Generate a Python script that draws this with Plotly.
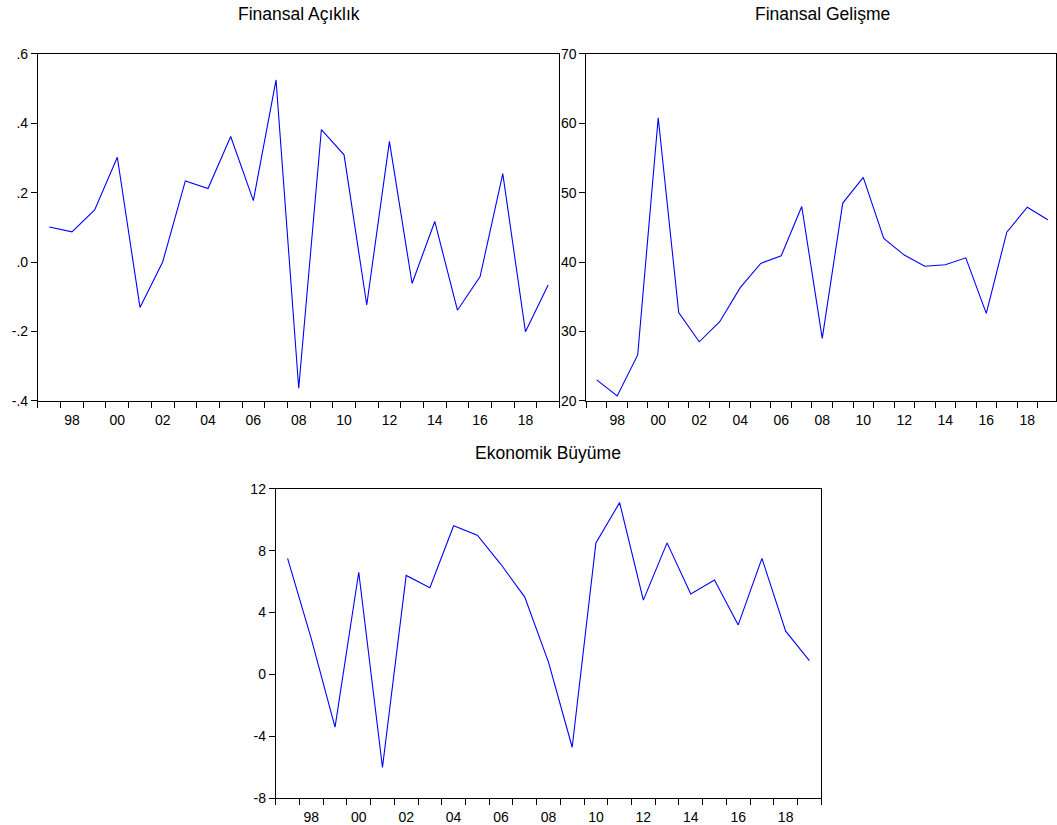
import plotly.graph_objects as go

years = list(range(1997, 2020))

finansal_aciklik = [0.101, 0.087, 0.150, 0.302, -0.131, 0.000, 0.234, 0.212, 0.362, 0.177,
                    0.525, -0.364, 0.382, 0.309, -0.124, 0.348, -0.062, 0.117, -0.139, -0.042,
                    0.255, -0.201, -0.066]

finansal_gelisme = [23.0, 20.7, 26.6, 60.8, 32.7, 28.5, 31.4, 36.3, 39.8, 40.9,
                    48.0, 29.0, 48.5, 52.2, 43.4, 41.0, 39.4, 39.6, 40.6, 32.6,
                    44.3, 47.9, 46.1]

ekonomik_buyume = [7.5, 2.3, -3.4, 6.6, -6.0, 6.4, 5.6, 9.6, 9.0, 7.1,
                   5.0, 0.8, -4.7, 8.5, 11.1, 4.8, 8.5, 5.2, 6.1, 3.2,
                   7.5, 2.8, 0.9]

titles = ["Finansal Açıklık", "Finansal Gelişme", "Ekonomik Büyüme"]

x_label_years = list(range(1998, 2020, 2))
x_label_text = [f"{y % 100:02d}" for y in x_label_years]
x_minor_ticks = [y + 0.5 for y in range(1996, 2020)]

y1_ticks = [-0.4, -0.2, 0.0, 0.2, 0.4, 0.6]
y1_text = ["-.4", "-.2", ".0", ".2", ".4", ".6"]
y2_ticks = [20, 30, 40, 50, 60, 70]
y3_ticks = [-8, -4, 0, 4, 8, 12]

W, H = 1057, 825


def xd(a, b):
    return [a / W, min(b / W, 1.0)]


def yd(top, bottom):
    return [max(1 - bottom / H, 0.0), 1 - top / H]


font_family = "Liberation Sans, Arial, sans-serif"
tick_font = dict(family=font_family, size=14, color="#000000")

fig = go.Figure()
fig.add_trace(go.Scatter(x=years, y=finansal_aciklik, mode="lines",
                         line=dict(color="#0000FF", width=1.1), xaxis="x", yaxis="y",
                         showlegend=False, hoverinfo="skip"))
fig.add_trace(go.Scatter(x=years, y=finansal_gelisme, mode="lines",
                         line=dict(color="#0000FF", width=1.1), xaxis="x2", yaxis="y2",
                         showlegend=False, hoverinfo="skip"))
fig.add_trace(go.Scatter(x=years, y=ekonomik_buyume, mode="lines",
                         line=dict(color="#0000FF", width=1.1), xaxis="x3", yaxis="y3",
                         showlegend=False, hoverinfo="skip"))


def xaxis_cfg(domain, anchor, rng):
    return dict(domain=domain, anchor=anchor, range=rng,
                tickmode="array", tickvals=x_label_years, ticktext=x_label_text,
                ticks="outside", ticklen=6, tickcolor="rgba(0,0,0,0)",
                minor=dict(tickmode="array", tickvals=x_minor_ticks, ticks="outside",
                           ticklen=6, tickcolor="#000000", tickwidth=1, showgrid=False),
                showline=True, linecolor="#000000", linewidth=1, mirror=True,
                showgrid=False, zeroline=False, tickfont=tick_font, fixedrange=True)


def yaxis_cfg(domain, anchor, rng, tv, tt):
    return dict(domain=domain, anchor=anchor, range=rng,
                tickmode="array", tickvals=tv, ticktext=tt,
                ticks="outside", ticklen=6, tickcolor="#000000", tickwidth=1,
                showline=True, linecolor="#000000", linewidth=1, mirror=True,
                showgrid=False, zeroline=False, tickfont=tick_font, fixedrange=True)


fig.update_layout(
    width=W, height=H,
    margin=dict(l=0, r=0, t=0, b=0),
    paper_bgcolor="white", plot_bgcolor="white",
    showlegend=False,
    xaxis=xaxis_cfg(xd(38, 560), "y", [1996.5, 2019.5]),
    yaxis=yaxis_cfg(yd(47, 402), "x", [-0.4, 0.6], y1_ticks, y1_text),
    xaxis2=xaxis_cfg(xd(587, 1057), "y2", [1996.5, 2019.4]),
    yaxis2=yaxis_cfg(yd(47, 402), "x2", [20, 70], y2_ticks, [str(v) for v in y2_ticks]),
    xaxis3=xaxis_cfg(xd(276, 822), "y3", [1996.5, 2019.5]),
    yaxis3=yaxis_cfg(yd(492, 809), "x3", [-8, 12], y3_ticks, [str(v) for v in y3_ticks]),
)

title_font = dict(family=font_family, size=17.5, color="#000000")
title_pos = [(299, 6.5), (823, 6.5), (549, 455)]
for t, (cx, cy) in zip(titles, title_pos):
    fig.add_annotation(text=t, x=cx / W, y=1 - cy / H, xref="paper", yref="paper",
                       xanchor="center", yanchor="middle", showarrow=False, font=title_font)

fig.write_html(
    "out.html",
    config={"displayModeBar": False, "staticPlot": True},
    post_script="document.body.style.margin='0';document.body.style.padding='0';"
                "document.body.style.overflow='hidden';",
)
